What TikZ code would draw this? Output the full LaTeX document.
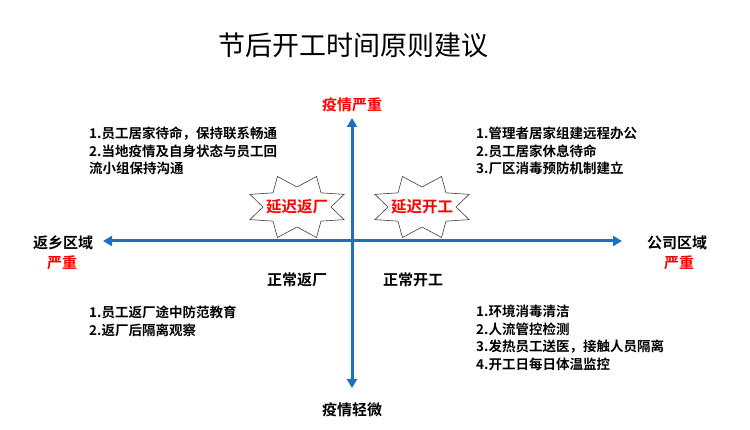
\documentclass[tikz,border=0pt]{standalone}
\usepackage{fontspec}
\newfontfamily\cjk{Noto Sans CJK SC}
\newfontfamily\cjkb{Noto Sans CJK SC Bold}
\usetikzlibrary{arrows.meta}
\definecolor{axblue}{HTML}{1F6FC0}
\begin{document}
\begin{tikzpicture}[x=1pt,y=-1pt,
  txt/.style={font=\cjkb\fontsize{13.5}{17.5}\selectfont,align=left,anchor=north west,inner sep=0},
  lbl/.style={font=\cjkb\fontsize{15}{17}\selectfont,inner sep=0},
  red/.style={text=red},
  axis/.style={draw=axblue,line width=3pt,-{Triangle[length=9pt,width=10pt]}}]
\useasboundingbox (0,0) rectangle (750,430);
\node[font=\cjk\fontsize{27}{30}\selectfont] (title) at (353,45) {节后开工时间原则建议};
\coordinate (c) at (352,241);
\coordinate (l) at (103,241);
\coordinate (r) at (622,241);
\coordinate (t) at (352,118);
\coordinate (b) at (352,388);
\draw[axis] (c) -- (l);
\draw[axis] (c) -- (r);
\draw[axis] (c) -- (t);
\draw[axis] (c) -- (b);
\foreach \cx/\nm/\lab in {297/s1/延迟返厂,422/s2/延迟开工}{
  \draw[draw=black!75,fill=white,line width=0.6pt]
    plot[samples at={0,1,...,15}] ({\cx+ifthenelse(mod(\x,2)==0,51,34)*cos(22.5*\x+22.5)},{207+ifthenelse(mod(\x,2)==0,33,20)*sin(22.5*\x+22.5)}) -- cycle;
  \node[lbl,red,font=\cjkb\fontsize{15.5}{17}\selectfont] (\nm) at (\cx,207) {\lab};
}
\node[lbl,red] (top) at (352,105) {疫情严重};
\node[lbl] (bot) at (352,410) {疫情轻微};
\node[lbl] (left) at (63,243) {返乡区域};
\node[lbl,red] (leftr) at (62,263) {严重};
\node[lbl] (right) at (677,243) {公司区域};
\node[lbl,red] (rightr) at (679,263) {严重};
\node[lbl] (n1) at (297,280) {正常返厂};
\node[lbl] (n2) at (413,280) {正常开工};
\node[txt] (q1) at (89,127) {1.员工居家待命，保持联系畅通\\2.当地疫情及自身状态与员工回\\流小组保持沟通};
\node[txt] (q2) at (476,127) {1.管理者居家组建远程办公\\2.员工居家休息待命\\3.厂区消毒预防机制建立};
\node[txt] (q3) at (89,306) {1.员工返厂途中防范教育\\2.返厂后隔离观察};
\node[txt] (q4) at (476,305) {1.环境消毒清洁\\2.人流管控检测\\3.发热员工送医，接触人员隔离\\4.开工日每日体温监控};
\end{tikzpicture}
\end{document}
